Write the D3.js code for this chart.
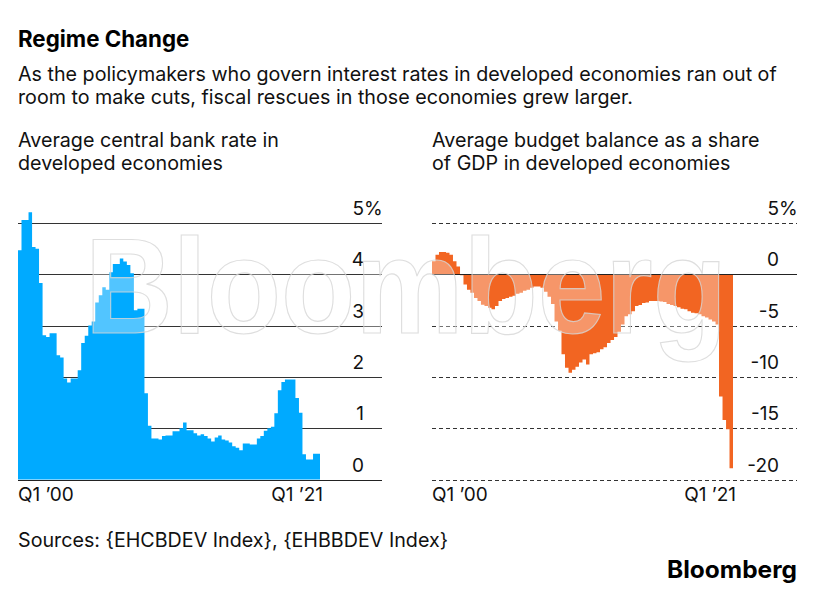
<!DOCTYPE html>
<html>
<head>
<meta charset="utf-8">
<script src="https://cdn.jsdelivr.net/npm/d3@7"></script>
<style>
  body { margin: 0; background: #fff; }
  svg { display: block; font-family: Inter, "Liberation Sans", Arial, sans-serif; }
</style>
</head>
<body>
<svg id="chart" width="814" height="592"></svg>
<script>
// quarterly observations, Q1 2000 .. Q2 2021
const quarters = d3.range(86).map(i => new Date(2000, i * 3, 1))

// average central bank rate, %
const rateValues = [
  4.47, 5.06, 5.06, 5.21, 4.53, 4.5, 3.83, 2.81, 2.78, 2.85,
  2.85, 2.42, 2.38, 1.97, 1.89, 1.97, 1.97, 2.13, 2.66, 2.8,
  3.0, 3.08, 3.45, 3.59, 3.75, 3.7, 4.04, 4.2, 4.2, 4.31,
  4.25, 4.18, 4.02, 3.3, 3.33, 3.33, 1.68, 1.05, 0.8, 0.8,
  0.78, 0.85, 0.86, 0.86, 0.94, 0.94, 1.0, 1.11, 0.96, 0.96,
  0.9, 0.86, 0.88, 0.85, 0.8, 0.74, 0.82, 0.86, 0.78, 0.76,
  0.72, 0.65, 0.62, 0.57, 0.7, 0.7, 0.68, 0.68, 0.8, 0.85,
  0.95, 1.0, 1.03, 1.29, 1.74, 1.9, 1.95, 1.95, 1.95, 1.59,
  1.3, 0.49, 0.39, 0.39, 0.5, 0.5
]

// average budget balance, % of GDP
const budgetValues = [
  1.26, 1.9, 2.17, 2.17, 2.1, 1.9, 1.26, 0.77, -0.1, -1.0,
  -1.5, -1.8, -2.3, -2.6, -2.96, -3.1, -3.25, -3.4, -3.1, -2.6,
  -2.4, -2.3, -2.2, -2.1, -1.9, -1.8, -1.6, -1.5, -1.3, -1.2,
  -1.2, -1.3, -1.7, -2.2, -2.9, -4.6, -5.5, -7.8, -9.1, -9.6,
  -9.3, -9.0, -8.6, -8.3, -8.8, -7.8, -7.7, -7.6, -7.3, -7.1,
  -6.7, -6.4, -6.1, -5.6, -4.9, -4.1, -3.9, -3.6, -3.1, -3.0,
  -2.8, -2.75, -2.6, -2.6, -2.6, -2.65, -2.7, -2.9, -3.0, -3.1,
  -3.2, -3.35, -3.4, -3.6, -3.75, -3.8, -3.9, -4.1, -4.2, -4.4,
  -4.6, -4.9, -11.9, -14.2, -15.1, -18.9
]

const rateTicks = [0, 1, 2, 3, 4, 5]
const budgetTicks = [-20, -15, -10, -5, 0, 5]
const xLabels = ['Q1 \u201900', 'Q1 \u201921']

const svg = d3.select('#chart')
const endDate = new Date(2021, 6, 1)
const fs = 19.7

// header
svg.append('text')
  .attr('x', 18).attr('y', 47)
  .attr('font-size', 22.3).attr('font-weight', 'bold').attr('fill', '#000')
  .text('Regime Change')

const sub = ['As the policymakers who govern interest rates in developed economies ran out of',
  'room to make cuts, fiscal rescues in those economies grew larger.']
svg.append('g').selectAll('text')
  .data(sub)
  .join('text')
  .attr('x', 18).attr('y', (d, i) => 81 + i * 23)
  .attr('font-size', fs).attr('fill', '#111')
  .text(d => d)

function drawPanel (opts) {
  const x = d3.scaleTime().domain([quarters[0], endDate]).range(opts.xRange)
  const y = d3.scaleLinear().domain(opts.domain).range([479.5, 223])

  const g = svg.append('g')

  // panel subtitle
  g.selectAll('.ptitle')
    .data(opts.title)
    .join('text')
    .attr('x', opts.xRange[0]).attr('y', (d, i) => 147 + i * 23)
    .attr('font-size', fs).attr('fill', '#111')
    .text(d => d)

  // grid
  g.append('g').selectAll('line')
    .data(opts.ticks)
    .join('line')
    .attr('x1', opts.xRange[0]).attr('x2', opts.gridEnd)
    .attr('y1', d => Math.round(y(d)) + 0.5).attr('y2', d => Math.round(y(d)) + 0.5)
    .attr('stroke', '#333').attr('stroke-width', 1)
    .attr('stroke-dasharray', opts.dashed ? '4,3' : null)

  // step area
  const pts = quarters.map((q, i) => ({ date: q, v: opts.values[i] }))
  pts.push({ date: endDate, v: opts.values[opts.values.length - 1] })
  const area = d3.area()
    .curve(d3.curveStepAfter)
    .x(d => x(d.date))
    .y0(y(0))
    .y1(d => y(d.v))
  g.append('path')
    .datum(pts)
    .attr('d', area)
    .attr('fill', opts.color)

  // zero line on top
  g.append('line')
    .attr('x1', opts.xRange[0]).attr('x2', opts.gridEnd)
    .attr('y1', Math.round(y(0)) + 0.5).attr('y2', Math.round(y(0)) + 0.5)
    .attr('stroke', '#222').attr('stroke-width', 1)

  // tick labels
  g.append('g').selectAll('text')
    .data(opts.ticks)
    .join('text')
    .attr('x', opts.labelX).attr('y', d => y(d) - 8)
    .attr('text-anchor', 'end')
    .attr('font-size', 19).attr('fill', '#111')
    .text(d => d)
  g.append('text')
    .attr('x', opts.labelX).attr('y', y(d3.max(opts.ticks)) - 8)
    .attr('font-size', 19).attr('fill', '#111')
    .text('%')

  // x labels
  g.append('text')
    .attr('x', x(quarters[0])).attr('y', 501)
    .attr('font-size', 19).attr('fill', '#111')
    .text(xLabels[0])
  g.append('text')
    .attr('x', x(endDate) + 3).attr('y', 501)
    .attr('text-anchor', 'end')
    .attr('font-size', 19).attr('fill', '#111')
    .text(xLabels[1])
}

drawPanel({
  title: ['Average central bank rate in', 'developed economies'],
  values: rateValues,
  ticks: rateTicks,
  domain: [0, 5],
  xRange: [18, 320],
  gridEnd: 382,
  labelX: 364,
  color: '#00aaff',
  dashed: false
})

drawPanel({
  title: ['Average budget balance as a share', 'of GDP in developed economies'],
  values: budgetValues,
  ticks: budgetTicks,
  domain: [-20, 5],
  xRange: [432, 733],
  gridEnd: 797,
  labelX: 779,
  color: '#f26522',
  dashed: true
})

// watermark
svg.append('text')
  .attr('x', 85).attr('y', 333)
  .attr('font-family', '"Liberation Sans", Arial, sans-serif')
  .attr('font-size', 135).attr('font-weight', 'bold')
  .attr('textLength', 642).attr('lengthAdjust', 'spacingAndGlyphs')
  .attr('fill', '#fff').attr('fill-opacity', 0.32)
  .attr('stroke', '#d6d6d6').attr('stroke-width', 1.2).attr('stroke-opacity', 0.8)
  .text('Bloomberg')

// footer
svg.append('text')
  .attr('x', 18).attr('y', 547)
  .attr('font-size', fs).attr('fill', '#111')
  .text('Sources: {EHCBDEV Index}, {EHBBDEV Index}')

svg.append('text')
  .attr('x', 797).attr('y', 578)
  .attr('text-anchor', 'end')
  .attr('font-size', 24).attr('font-weight', 'bold').attr('fill', '#000')
  .attr('textLength', 130).attr('lengthAdjust', 'spacingAndGlyphs')
  .text('Bloomberg')
</script>
</body>
</html>
